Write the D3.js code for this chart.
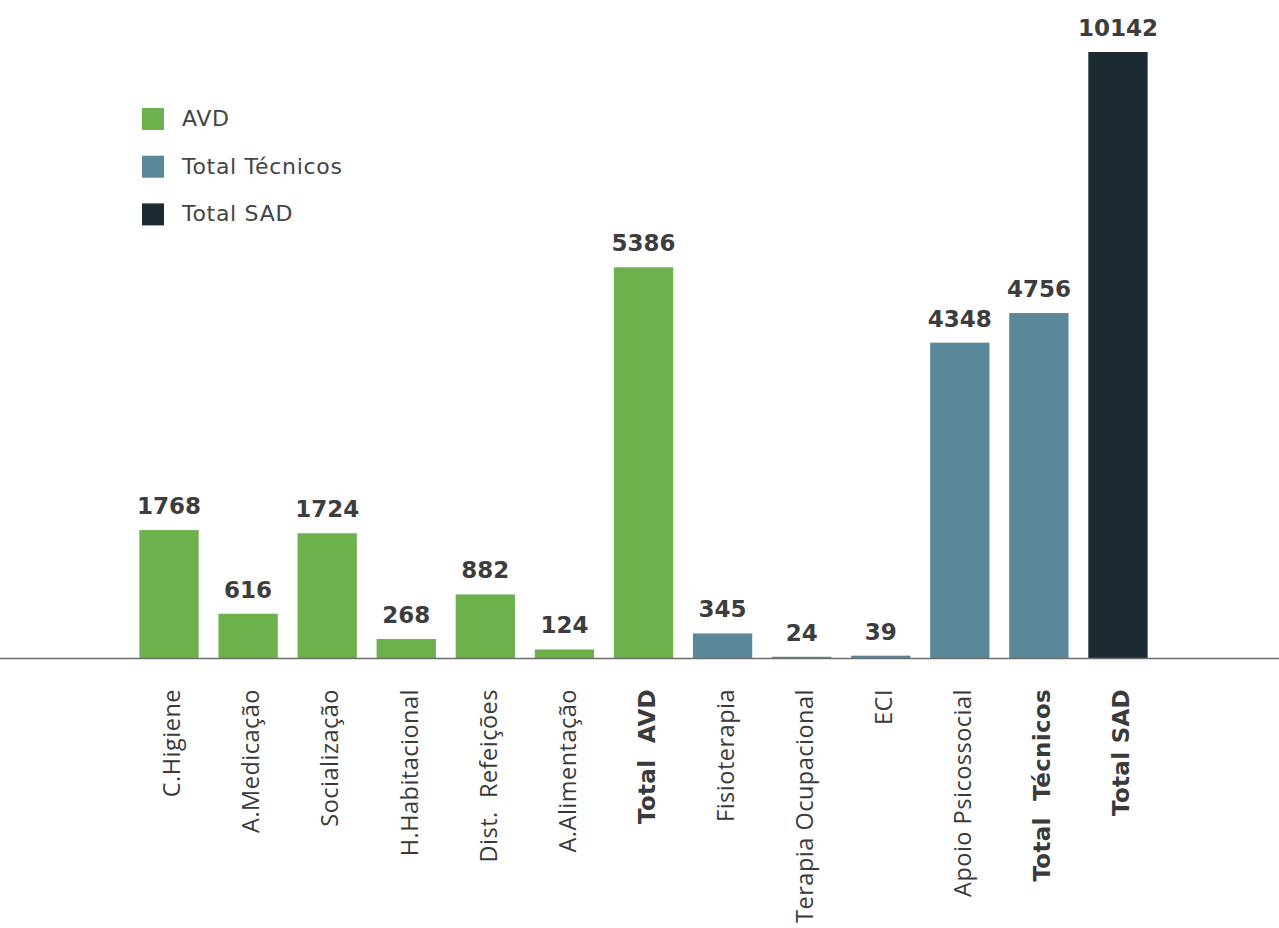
<!DOCTYPE html>
<html>
<head>
<meta charset="utf-8">
<script src="https://cdn.jsdelivr.net/npm/d3@7"></script>
<style>
  html, body { margin: 0; padding: 0; background: #fff; }
  svg { display: block; }
</style>
</head>
<body>
<svg id="chart" width="1279" height="928"></svg>
<script>
// ---- data ----
const categories = ["C.Higiene", "A.Medicação", "Socialização", "H.Habitacional", "Dist.  Refeições",
  "A.Alimentação", "Total  AVD", "Fisioterapia", "Terapia Ocupacional", "ECI",
  "Apoio Psicossocial", "Total  Técnicos", "Total SAD"];
const values = [1768, 616, 1724, 268, 882, 124, 5386, 345, 24, 39, 4348, 4756, 10142];
const groups = ["AVD", "AVD", "AVD", "AVD", "AVD", "AVD", "AVD",
  "Total Técnicos", "Total Técnicos", "Total Técnicos", "Total Técnicos", "Total Técnicos", "Total SAD"];
const boldCategories = ["Total  AVD", "Total  Técnicos", "Total SAD"];
const legendLabels = ["AVD", "Total Técnicos", "Total SAD"];
const legendColors = ["#6cb14b", "#5a8898", "#1c2b31"];

// ---- layout ----
const svg = d3.select("#chart");
const baseY = 658.5, topY = 52;

const x = d3.scaleBand().domain(categories).range([129.5, 1157.5])
  .paddingInner(0.25).paddingOuter(0.125);
const y = d3.scaleLinear().domain([0, 8350]).range([baseY, topY]).clamp(true);
const color = d3.scaleOrdinal().domain(legendLabels).range(legendColors);

// bars
svg.append("g").selectAll("rect").data(categories).join("rect")
  .attr("x", d => x(d))
  .attr("width", x.bandwidth())
  .attr("y", (d, i) => y(values[i]))
  .attr("height", (d, i) => baseY - y(values[i]))
  .attr("fill", (d, i) => color(groups[i]));

// value labels
svg.append("g").selectAll("text").data(categories).join("text")
  .attr("x", d => x(d) + x.bandwidth() / 2)
  .attr("y", (d, i) => y(values[i]) - 16)
  .attr("text-anchor", "middle")
  .style("font-family", "'DejaVu Sans', Verdana, sans-serif")
  .style("font-weight", "bold")
  .style("font-size", "23px")
  .attr("fill", "#3d3d3d")
  .text((d, i) => values[i]);

// baseline
svg.append("line")
  .attr("x1", 0).attr("x2", 1279)
  .attr("y1", baseY).attr("y2", baseY)
  .attr("stroke", "#6e6e6e").attr("stroke-width", 1.5);

// x axis labels
svg.append("g").selectAll("text").data(categories).join("text")
  .attr("transform", d => `translate(${x(d) + x.bandwidth() / 2 + 3},689) rotate(-90)`)
  .attr("text-anchor", "end")
  .attr("dy", "0.35em")
  .style("white-space", "pre")
  .style("font-family", d => boldCategories.includes(d) ? "'DejaVu Sans', Verdana, sans-serif" : "'Open Sans', sans-serif")
  .style("font-weight", d => boldCategories.includes(d) ? "bold" : "normal")
  .style("font-size", d => boldCategories.includes(d) ? "23px" : "23.5px")
  .style("letter-spacing", d => boldCategories.includes(d) ? "0.3px" : "0.5px")
  .attr("fill", "#3a3a3a")
  .text(d => d);

// legend
const lg = svg.append("g").selectAll("g").data(legendLabels).join("g")
  .attr("transform", (d, i) => `translate(142,${108 + i * 47.7})`);
lg.append("rect").attr("width", 22).attr("height", 22).attr("fill", d => color(d));
lg.append("text")
  .attr("x", 40).attr("y", 18)
  .style("font-family", "'DejaVu Sans', Verdana, sans-serif")
  .style("font-size", "22px")
  .style("letter-spacing", "0.7px")
  .attr("fill", "#444")
  .text(d => d);
</script>
</body>
</html>
